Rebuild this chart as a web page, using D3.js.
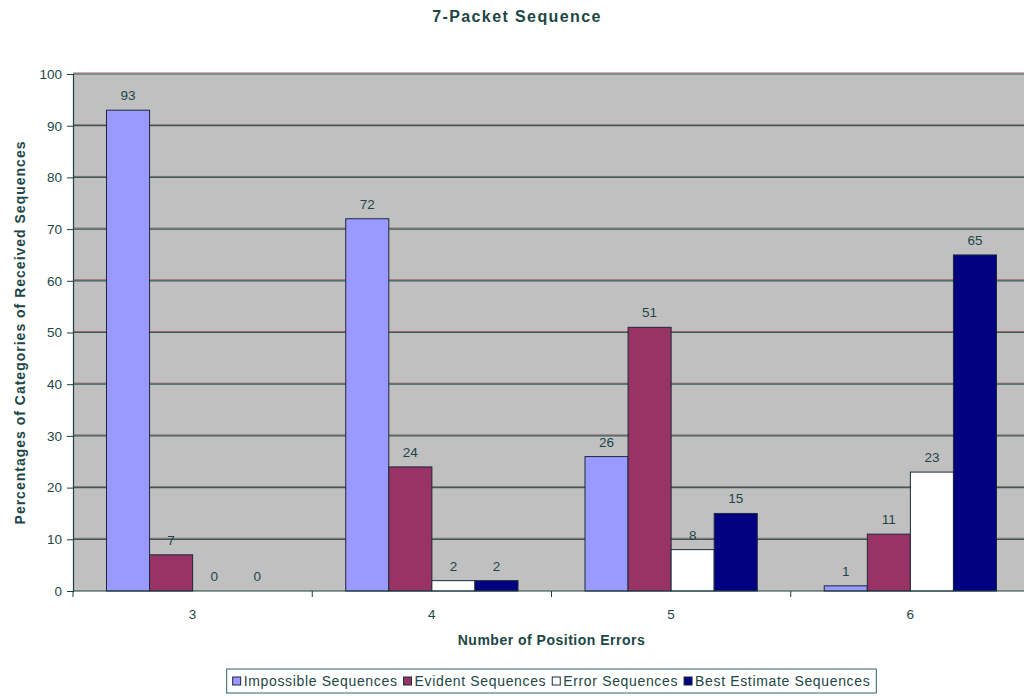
<!DOCTYPE html>
<html>
<head>
<meta charset="utf-8">
<script src="https://cdn.jsdelivr.net/npm/d3@7"></script>
<style>
  html, body { margin: 0; padding: 0; background: #ffffff; }
  svg text { font-family: "Liberation Sans", Arial, sans-serif; fill: #1d4646; }
</style>
</head>
<body>
<svg id="chart" width="1024" height="696"></svg>
<script>
// Categories (number of position errors) and the four series, in percent
const categories = ["3", "4", "5", "6"];
const seriesNames = ["Impossible Sequences", "Evident Sequences", "Error Sequences", "Best Estimate Sequences"];
const impossible = [93, 72, 26, 1];
const evident = [7, 24, 51, 11];
const errorSeq = [0, 2, 8, 23];
const bestEstimate = [0, 2, 15, 65];
const yTicks = [0, 10, 20, 30, 40, 50, 60, 70, 80, 90, 100];

const seriesValues = [impossible, evident, errorSeq, bestEstimate];
const seriesColors = ["#9999ff", "#993366", "#ffffff", "#000080"];

const svg = d3.select("#chart");
const plot = { left: 73, right: 1030, top: 74, bottom: 591 };

const x0 = d3.scaleBand()
  .domain(categories)
  .range([plot.left, plot.right])
  .paddingInner(0.28)
  .paddingOuter(0.14);

const x1 = d3.scaleBand()
  .domain(d3.range(seriesNames.length))
  .range([0, x0.bandwidth()])
  .padding(0);

const y = d3.scaleLinear().domain([0, 100]).range([plot.bottom, plot.top]);

// Plot area background
svg.append("rect")
  .attr("x", plot.left).attr("y", plot.top)
  .attr("width", plot.right - plot.left).attr("height", plot.bottom - plot.top)
  .attr("fill", "#c0c0c0");

// Horizontal gridlines
const grid = svg.append("g");
yTicks.filter(t => t > 0).forEach(t => {
  grid.append("line")
    .attr("x1", plot.left).attr("x2", plot.right)
    .attr("y1", y(t) - 1).attr("y2", y(t) - 1)
    .attr("stroke", "#a86464").attr("stroke-width", 1);
  grid.append("line")
    .attr("x1", plot.left).attr("x2", plot.right)
    .attr("y1", y(t)).attr("y2", y(t))
    .attr("stroke", "#2f6060").attr("stroke-width", 1.2);
});

// Bars
const rows = categories.map((c, i) => ({
  cat: c,
  vals: seriesValues.map((s, k) => ({ k, v: s[i] }))
}));

const groups = svg.append("g").selectAll("g")
  .data(rows).join("g")
  .attr("transform", d => `translate(${x0(d.cat)},0)`);

groups.selectAll("rect")
  .data(d => d.vals).join("rect")
  .attr("x", d => x1(d.k))
  .attr("y", d => y(d.v))
  .attr("width", x1.bandwidth())
  .attr("height", d => y(0) - y(d.v))
  .attr("fill", d => seriesColors[d.k])
  .attr("stroke", "#1a2a3a")
  .attr("stroke-width", d => d.v > 0 ? 1 : 0);

groups.selectAll("text")
  .data(d => d.vals).join("text")
  .attr("x", d => x1(d.k) + x1.bandwidth() / 2)
  .attr("y", d => y(d.v) - 10)
  .attr("text-anchor", "middle")
  .attr("font-size", 13.5)
  .text(d => d.v);

// Y axis
const yAxis = svg.append("g")
  .attr("transform", `translate(${plot.left},0)`)
  .call(d3.axisLeft(y).tickValues(yTicks).tickSize(6).tickPadding(5));
yAxis.select(".domain").attr("stroke", "#1d3f3f").attr("stroke-width", 1.2);
yAxis.selectAll(".tick line").attr("stroke", "#1d3f3f");
yAxis.selectAll(".tick text").attr("font-size", 13.5).attr("fill", "#1d4646")
  .style("font-family", "'Liberation Sans', Arial, sans-serif");

// X axis baseline with ticks at category boundaries
const xAxis = svg.append("g");
xAxis.append("line")
  .attr("x1", plot.left).attr("x2", plot.right)
  .attr("y1", y(0)).attr("y2", y(0))
  .attr("stroke", "#1d3f3f").attr("stroke-width", 1.2);
const half = x0.step() * x0.paddingInner() / 2;
const bounds = categories.map(c => x0(c) - half).concat([x0(categories[categories.length - 1]) + x0.bandwidth() + half]);
bounds.forEach(bx => {
  xAxis.append("line")
    .attr("x1", bx).attr("x2", bx)
    .attr("y1", y(0)).attr("y2", y(0) + 6)
    .attr("stroke", "#1d3f3f");
});
categories.forEach(c => {
  xAxis.append("text")
    .attr("x", x0(c) + x0.bandwidth() / 2)
    .attr("y", 619)
    .attr("text-anchor", "middle")
    .attr("font-size", 13.5)
    .text(c);
});

// Titles
svg.append("text")
  .attr("x", 517).attr("y", 22)
  .attr("text-anchor", "middle")
  .attr("font-size", 16).attr("font-weight", "bold")
  .attr("letter-spacing", 1.4)
  .text("7-Packet Sequence");

svg.append("text")
  .attr("x", (plot.left + plot.right) / 2).attr("y", 645)
  .attr("text-anchor", "middle")
  .attr("font-size", 14).attr("font-weight", "bold")
  .attr("letter-spacing", 0.5)
  .text("Number of Position Errors");

svg.append("text")
  .attr("transform", `translate(25,${(plot.top + plot.bottom) / 2}) rotate(-90)`)
  .attr("text-anchor", "middle")
  .attr("font-size", 14).attr("font-weight", "bold")
  .attr("letter-spacing", 1)
  .text("Percentages of Categories of Received Sequences");

// Legend
const legend = svg.append("g");
const legendItems = legend.selectAll("g")
  .data(seriesNames).join("g");
legendItems.append("rect")
  .attr("width", 8).attr("height", 8)
  .attr("fill", (d, i) => seriesColors[i])
  .attr("stroke", "#1a2a3a");
legendItems.append("text")
  .attr("x", 11).attr("y", 9)
  .attr("font-size", 14)
  .attr("letter-spacing", 0.65)
  .text(d => d);

let cursor = 0;
legendItems.each(function () {
  const w = this.getBBox().width;
  d3.select(this).attr("transform", `translate(${cursor},0)`);
  cursor += w + 6;
});
const legendWidth = cursor - 6;
const legendX = (plot.left + plot.right) / 2 - legendWidth / 2;
legend.attr("transform", `translate(${legendX},677)`);
legend.insert("rect", ":first-child")
  .attr("x", -6).attr("y", -8)
  .attr("width", legendWidth + 12).attr("height", 24)
  .attr("fill", "#ffffff")
  .attr("stroke", "#2f6464").attr("stroke-width", 1);
</script>
</body>
</html>
